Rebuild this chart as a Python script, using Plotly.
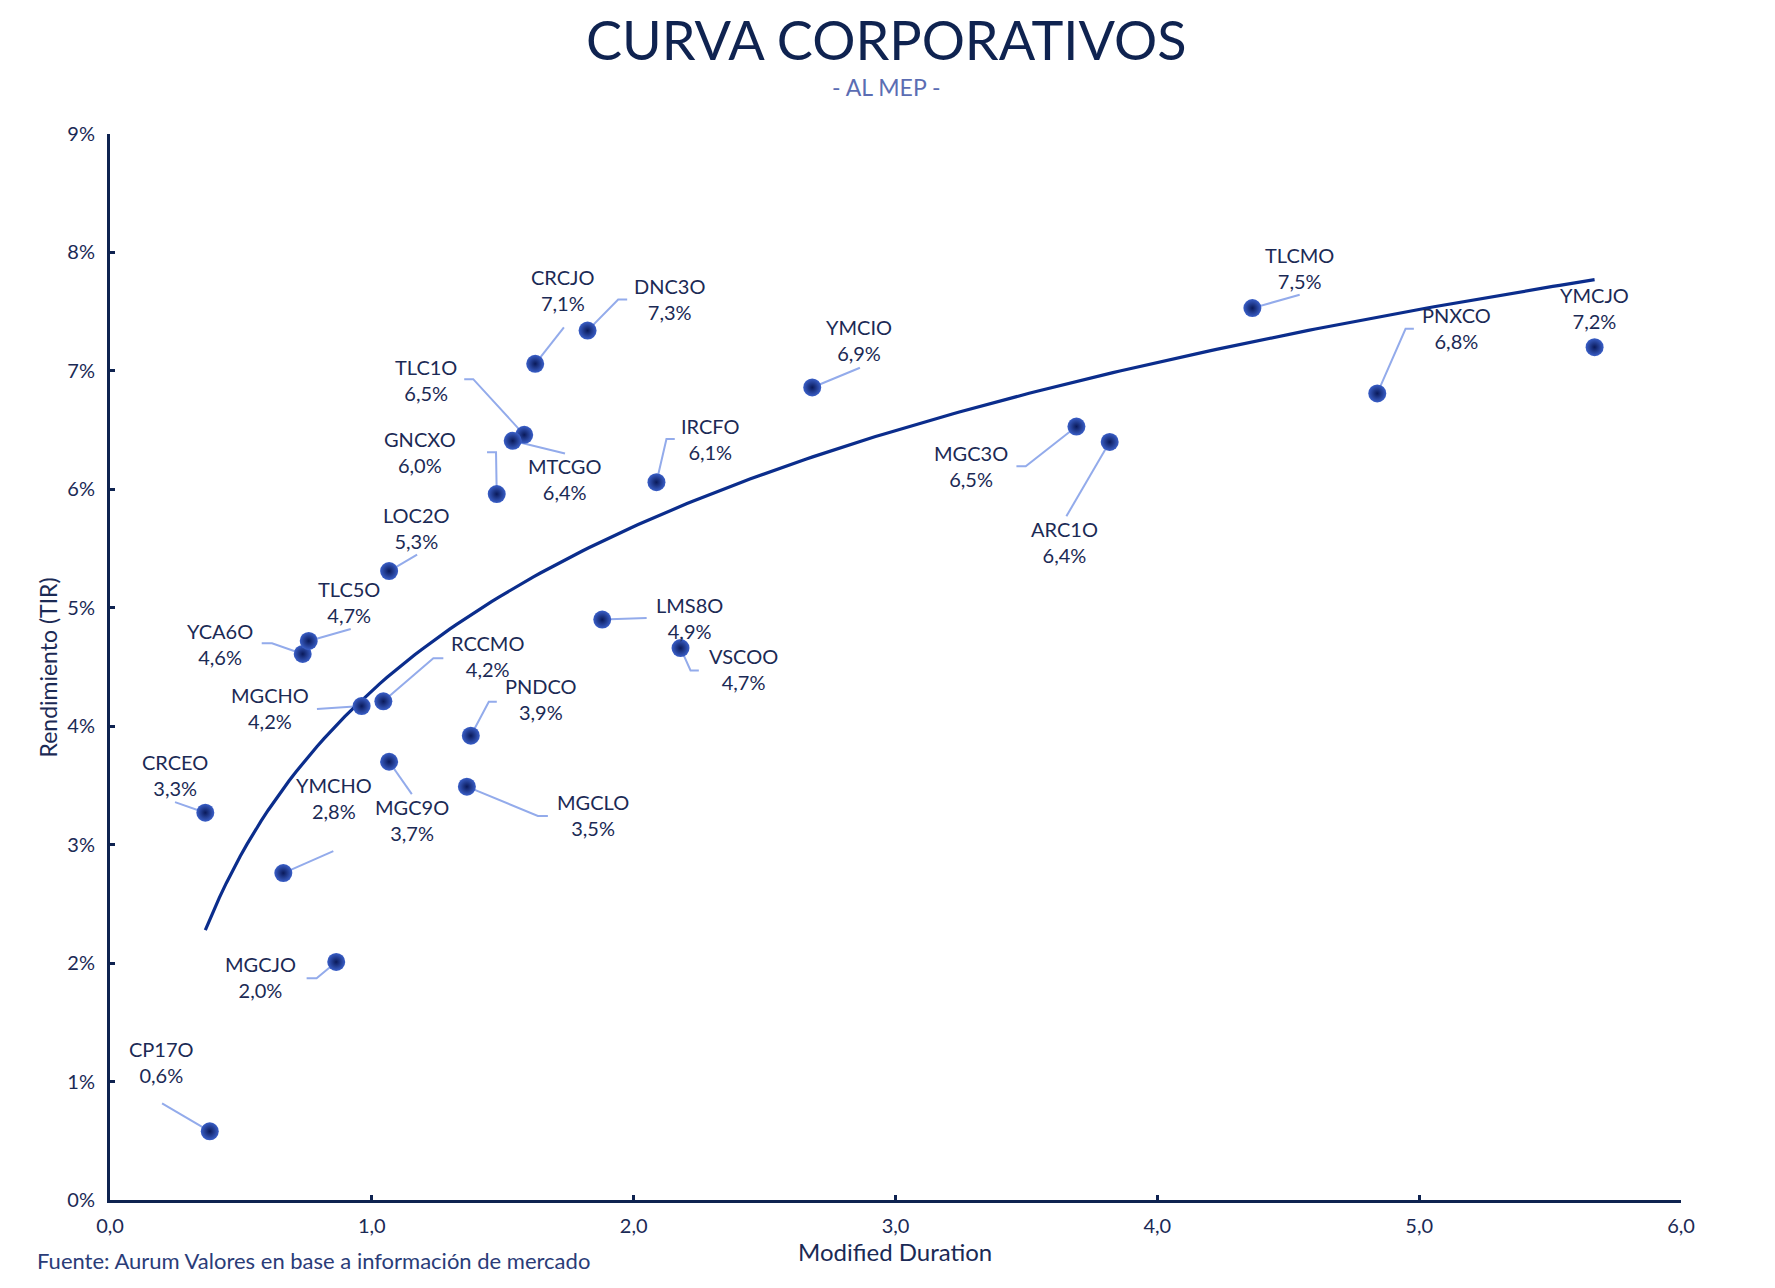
import numpy as np
import plotly.graph_objects as go

# ---------------- data ----------------
names = ["CP17O", "MGCJO", "YMCHO", "CRCEO", "MGC9O", "MGCLO", "PNDCO", "MGCHO",
         "RCCMO", "YCA6O", "TLC5O", "LOC2O", "GNCXO", "TLC1O", "MTCGO", "CRCJO",
         "DNC3O", "IRCFO", "LMS8O", "VSCOO", "YMCIO", "MGC3O", "ARC1O", "TLCMO",
         "PNXCO", "YMCJO"]
duration = [0.381, 0.864, 0.662, 0.364, 1.066, 1.363, 1.378, 0.961,
            1.044, 0.736, 0.759, 1.066, 1.477, 1.582, 1.538, 1.624,
            1.824, 2.087, 1.880, 2.179, 2.682, 3.691, 3.818, 4.363,
            4.840, 5.670]
yields = [0.58, 2.01, 2.76, 3.27, 3.70, 3.49, 3.92, 4.17,
          4.21, 4.61, 4.72, 5.31, 5.96, 6.46, 6.41, 7.06,
          7.34, 6.06, 4.90, 4.66, 6.86, 6.53, 6.40, 7.53,
          6.81, 7.20]
x_ticks = [0, 1, 2, 3, 4, 5, 6]
y_ticks = [0, 1, 2, 3, 4, 5, 6, 7, 8, 9]
y_tick_labels = ["0%", "1%", "2%", "3%", "4%", "5%", "6%", "7%", "8%", "9%"]

# ---------------- layout constants ----------------
OFF = 8  # page body margin
W, H = 1775 - 2 * OFF, 1288 - 2 * OFF
ML, MT = 110 - OFF, 134 - OFF
PW, PH = 1571, 1066
MR, MB = W - ML - PW, H - MT - PH
XR, YR = (0, 6), (0, 9)
UX = (XR[1] - XR[0]) / PW
UY = (YR[1] - YR[0]) / PH


def px(xp):   # reference page x pixel -> paper x
    return (xp - OFF - ML) / PW


def py(yp):   # reference page y pixel -> paper y
    return (MT + PH - (yp - OFF)) / PH


NAVY = "#0f2350"
TEXT = "#1b2a55"
LEADER = "#93abeb"

# label offsets (px, y down) and leader vertices (px offsets from the point)
label_layout = {
    "CP17O": ((-48.7, -69.3), [(-47.7, -28)]),
    "MGCJO": ((-75.3, 15.3), [(-19.6, 16.3), (-29.6, 16.3)]),
    "YMCHO": ((51, -75.3), [(50, -22)]),
    "CRCEO": ((-30.3, -37.6), [(-30.3, -10.6)]),
    "MGC9O": ((22.7, 57.8), [(22.7, 32.3)]),
    "MGCLO": ((126, 28.6), [(71, 29.3), (81, 29.3)]),
    "PNDCO": ((70, -36.3), [(18, -34), (26, -34)]),
    "MGCHO": ((-91.7, 2.3), [(-44.7, 3)]),
    "RCCMO": ((104.4, -45.4), [(50, -43), (60, -43)]),
    "YCA6O": ((-82.7, -10), [(-30.7, -10.7), (-41, -10.7)]),
    "TLC5O": ((40.6, -39.3), [(42, -12)]),
    "LOC2O": ((27.4, -42.7), [(28, -16.4)]),
    "GNCXO": ((-76.7, -41.7), [(-0.7, -41.7), (-9.7, -41.7)]),
    "TLC1O": ((-98.3, -55.2), [(-51, -55.7), (-60, -55.7)]),
    "MTCGO": ((51.6, 38), [(52.3, 12.7)]),
    "CRCJO": ((28, -74.2), [(28.7, -36.3)]),
    "DNC3O": ((81.6, -32), [(30.6, -31), (39.6, -31)]),
    "IRCFO": ((54.3, -43.3), [(10, -43.3), (18.3, -43.3)]),
    "LMS8O": ((87, -1.3), [(44.4, -1.6)]),
    "VSCOO": ((62.6, 21.4), [(10, 22.4), (18.3, 22.4)]),
    "YMCIO": ((46.7, -47.7), [(47.7, -19.7)]),
    "MGC3O": ((-105, 39.7), [(-50.7, 39.7), (-60, 39.7)]),
    "ARC1O": ((-45, 100.3), [(-43.3, 74.3)]),
    "TLCMO": ((47.3, -40), [(47.3, -13.3)]),
    "PNXCO": ((79, -65), [(28.3, -64.6), (36.6, -64.6)]),
    "YMCJO": ((0, -39), []),
}

FONT = "Lato"

fig = go.Figure()

# leader lines
lx, ly = [], []
for n, xv, yv in zip(names, duration, yields):
    verts = label_layout[n][1]
    if not verts:
        continue
    lx.append(xv); ly.append(yv)
    for dx, dy in verts:
        lx.append(xv + dx * UX); ly.append(yv - dy * UY)
    lx.append(None); ly.append(None)
fig.add_trace(go.Scatter(x=lx, y=ly, mode="lines",
                         line=dict(color=LEADER, width=2),
                         hoverinfo="skip", showlegend=False))

# logarithmic trend line (least squares on ln(x))
b, a = np.polyfit(np.log(duration), yields, 1)
tx = np.linspace(min(duration), max(duration), 200)
ty = a + b * np.log(tx)
fig.add_trace(go.Scatter(x=tx, y=ty, mode="lines",
                         line=dict(color="#0b2d8c", width=3.2),
                         hoverinfo="skip", showlegend=False))

# points
fig.add_trace(go.Scatter(x=duration, y=yields, mode="markers",
                         marker=dict(size=18, color="#3a5fc8",
                                     gradient=dict(type="radial", color="#0a1a5a"),
                                     line=dict(width=0)),
                         text=names, showlegend=False))

annotations = []
for n, xv, yv in zip(names, duration, yields):
    (dx, dy), _ = label_layout[n]
    val = f"{yv:.1f}".replace(".", ",") + "%"
    annotations.append(dict(x=xv, y=yv, xref="x", yref="y", text=f"{n}<br>{val}",
                            showarrow=False, xshift=dx, yshift=-dy,
                            xanchor="center", yanchor="middle", align="center",
                            font=dict(family=FONT, size=20, color=TEXT)))

# titles and texts
annotations += [
    dict(text="CURVA CORPORATIVOS", x=px(886), y=py(40),
         xref="paper", yref="paper", showarrow=False, xanchor="center", yanchor="middle",
         font=dict(family=FONT, size=54, color=NAVY)),
    dict(text="- AL MEP -", x=px(886), y=py(87),
         xref="paper", yref="paper", showarrow=False, xanchor="center", yanchor="middle",
         font=dict(family=FONT, size=23, color="#5b6db3")),
    dict(text="Rendimiento (TIR)", x=px(47.5), y=py(668), textangle=-90,
         xref="paper", yref="paper", showarrow=False, xanchor="center", yanchor="middle",
         font=dict(family=FONT, size=23, color=TEXT)),
    dict(text="Modified Duration", x=px(895), y=py(1251),
         xref="paper", yref="paper", showarrow=False, xanchor="center", yanchor="middle",
         font=dict(family=FONT, size=24, color=TEXT)),
    dict(text="Fuente: Aurum Valores en base a información de mercado",
         x=px(35), y=py(1260),
         xref="paper", yref="paper", showarrow=False, xanchor="left", yanchor="middle",
         font=dict(family=FONT, size=22, color="#2a3c78")),
]

fig.update_layout(
    width=W, height=H,
    margin=dict(l=ML, r=MR, t=MT, b=MB),
    plot_bgcolor="white", paper_bgcolor="white",
    separators=",.",
    annotations=annotations,
    xaxis=dict(range=list(XR), tickvals=x_ticks, tickformat=".1f",
               showgrid=False, zeroline=False, showline=True, linecolor=NAVY, linewidth=3,
               ticks="inside", ticklen=5, tickwidth=3, tickcolor=NAVY,
               ticklabelstandoff=6,
               tickfont=dict(family=FONT, size=20, color=TEXT)),
    yaxis=dict(range=list(YR), tickvals=y_ticks, ticktext=y_tick_labels,
               showgrid=False, zeroline=False, showline=True, linecolor=NAVY, linewidth=3,
               ticks="inside", ticklen=5, tickwidth=3, tickcolor=NAVY,
               ticklabelstandoff=8,
               tickfont=dict(family=FONT, size=20, color=TEXT)),
)

fig.write_html("out.html")
